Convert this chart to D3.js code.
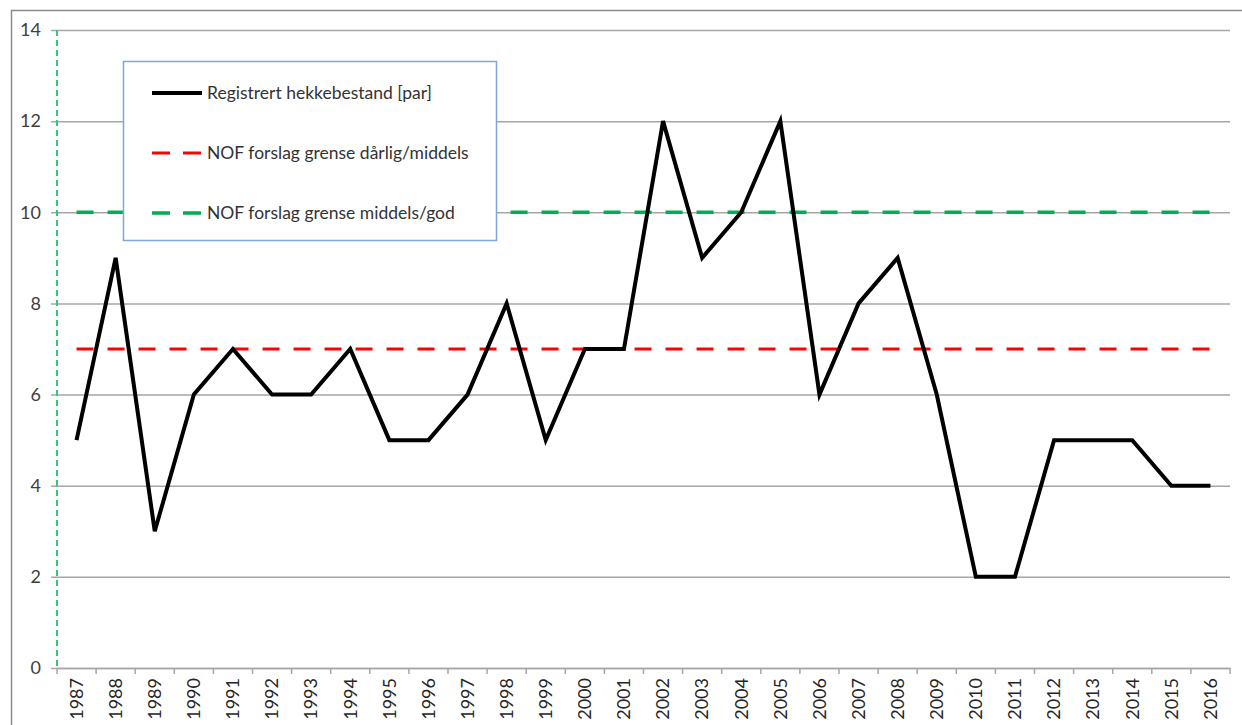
<!DOCTYPE html>
<html>
<head>
<meta charset="utf-8">
<script src="https://cdn.jsdelivr.net/npm/d3@7"></script>
<style>
    body { margin: 0; background: #fff; }
    svg text { font-family: Lato, "Open Sans", sans-serif; }
</style>
</head>
<body>
<div id="chart"></div>
<script>
var years = ['1987','1988','1989','1990','1991','1992','1993','1994','1995','1996',
             '1997','1998','1999','2000','2001','2002','2003','2004','2005','2006',
             '2007','2008','2009','2010','2011','2012','2013','2014','2015','2016'];
var pairs = [5,9,3,6,7,6,6,7,5,5,6,8,5,7,7,12,9,10,12,6,8,9,6,2,2,5,5,5,4,4];
var limitLow = 7;    // NOF grense dårlig/middels
var limitHigh = 10;  // NOF grense middels/god
var yTicks = [0,2,4,6,8,10,12,14];
var legendLabels = ['Registrert hekkebestand [par]',
                    'NOF forslag grense dårlig/middels',
                    'NOF forslag grense middels/god'];

var margins = {top: 30, right: 12, bottom: 57, left: 57},
    full_width = 1242,
    full_height = 725,
    width = full_width - margins.left - margins.right,
    height = full_height - margins.top - margins.bottom;

var svg = d3.select("#chart").append("svg")
    .attr("width", full_width)
    .attr("height", full_height);

// outer chart frame
svg.append("rect")
    .attr("x", 11.5).attr("y", 10.5)
    .attr("width", 1240).attr("height", 730)
    .attr("fill", "none")
    .attr("stroke", "#8c8c8c")
    .attr("stroke-width", 1.5);

var g = svg.append("g")
    .attr("transform", "translate(" + margins.left + "," + margins.top + ")");

var xScale = d3.scaleBand()
    .domain(years)
    .range([0, width]);

var yScale = d3.scaleLinear()
    .domain([0, 14])
    .range([height, 0]);

var cx = function(yr) { return xScale(yr) + xScale.bandwidth() / 2; };

// horizontal gridlines + y labels
var yAxis = d3.axisLeft(yScale)
    .tickValues(yTicks)
    .tickSize(-width - 6)
    .tickPadding(10)
    .tickFormat(d3.format("d"));

var yG = g.append("g")
    .attr("transform", "translate(-6,0)")
    .call(yAxis);
yG.select(".domain").remove();
yG.selectAll(".tick line")
    .attr("stroke", "#a6a6a6")
    .attr("stroke-width", 1.5);
yG.selectAll(".tick text")
    .attr("fill", "#404040")
    .style("font-size", "18px");

// x axis
var xAxis = d3.axisBottom(xScale)
    .tickSize(0)
    .tickPadding(0);

var xG = g.append("g")
    .attr("transform", "translate(0," + height + ")")
    .call(xAxis);
xG.select(".domain")
    .attr("stroke", "#a6a6a6")
    .attr("stroke-width", 1.5);
xG.selectAll(".tick text")
    .attr("transform", "rotate(-90)")
    .attr("text-anchor", "end")
    .attr("x", -10)
    .attr("y", 0)
    .attr("dy", "0.35em")
    .attr("fill", "#262626")
    .style("font-size", "18px");

// tick marks on category boundaries
xG.selectAll("line.bound")
    .data(years.concat(['end']))
    .enter().append("line")
    .attr("class", "bound")
    .attr("x1", function(d, i) { return i * xScale.step(); })
    .attr("x2", function(d, i) { return i * xScale.step(); })
    .attr("y1", 0)
    .attr("y2", 6)
    .attr("stroke", "#a6a6a6")
    .attr("stroke-width", 1.5);

// green dotted vertical axis
g.append("line")
    .attr("x1", 0).attr("x2", 0)
    .attr("y1", yScale(14)).attr("y2", yScale(0))
    .attr("stroke", "#2ecc71")
    .attr("stroke-width", 2)
    .attr("stroke-dasharray", "6,4");

// limit lines
function limitPath(value) {
    return d3.line()
        .x(function(d) { return cx(d); })
        .y(function() { return yScale(value); })(years);
}

g.append("path")
    .attr("d", limitPath(limitLow))
    .attr("fill", "none")
    .attr("stroke", "#ff0000")
    .attr("stroke-width", 3)
    .attr("stroke-dasharray", "17,14");

g.append("path")
    .attr("d", limitPath(limitHigh))
    .attr("fill", "none")
    .attr("stroke", "#00b050")
    .attr("stroke-width", 3.5)
    .attr("stroke-dasharray", "17,14");

// registered breeding pairs
var pair_line = d3.line()
    .x(function(d, i) { return cx(years[i]); })
    .y(function(d) { return yScale(d); });

g.append("path")
    .attr("d", pair_line(pairs))
    .attr("fill", "none")
    .attr("stroke", "#000")
    .attr("stroke-width", 4)
    .attr("stroke-linejoin", "miter");

// legend
var legend = svg.append("g")
    .attr("transform", "translate(123,61)");

legend.append("rect")
    .attr("x", 0.5).attr("y", 0.5)
    .attr("width", 373).attr("height", 179)
    .attr("fill", "#fff")
    .attr("stroke", "#7fa7d9")
    .attr("stroke-width", 1.5);

var legendStyles = [
    {color: "#000", dash: null, w: 4},
    {color: "#ff0000", dash: "18,13", w: 3},
    {color: "#00b050", dash: "18,13", w: 3.5}
];

legendLabels.forEach(function(label, i) {
    var ly = 32 + i * 60;
    legend.append("line")
        .attr("x1", 29).attr("x2", 79)
        .attr("y1", ly).attr("y2", ly)
        .attr("stroke", legendStyles[i].color)
        .attr("stroke-width", legendStyles[i].w)
        .attr("stroke-dasharray", legendStyles[i].dash);
    legend.append("text")
        .attr("x", 84)
        .attr("y", ly)
        .attr("dy", "0.35em")
        .attr("fill", "#333")
        .style("font-size", "17.5px")
        .text(label);
});
</script>
</body>
</html>
